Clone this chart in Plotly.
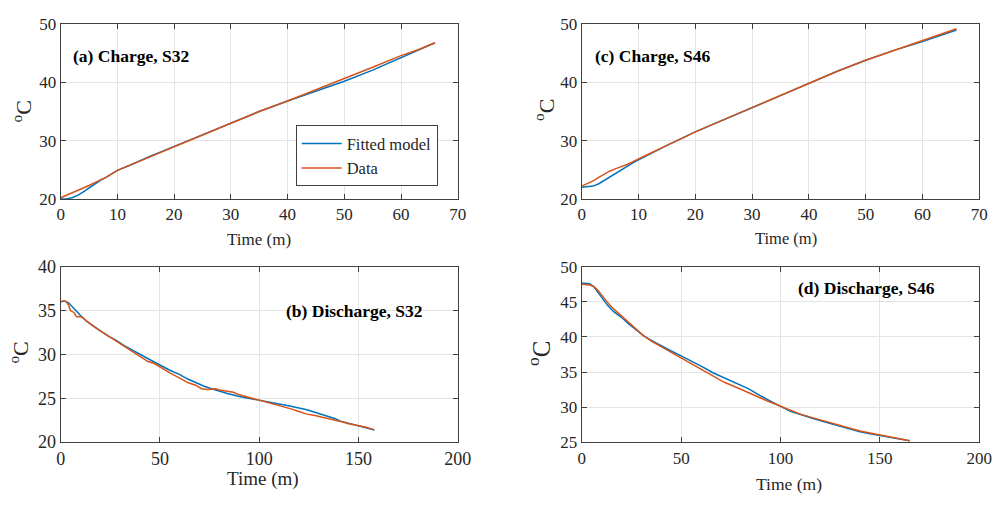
import plotly.graph_objects as go

# ---------------- data ----------------
# (a) Charge, S32
t_a_data = [0, 1, 2, 3, 4, 5, 6, 7, 8, 10, 12, 14, 16, 18, 20, 25, 30, 35, 40, 45, 50, 55, 60, 63, 66]
y_a_data = [20.2, 20.6, 21.0, 21.4, 21.8, 22.3, 22.8, 23.2, 23.7, 24.9, 25.7, 26.5, 27.3, 28.2, 29.0,
            31.0, 32.9, 35.0, 36.8, 38.7, 40.6, 42.6, 44.6, 45.6, 46.8]
t_a_fit = [0, 1, 2, 3, 4, 5, 6, 7, 8, 10, 12, 14, 16, 18, 20, 25, 30, 35, 40, 45, 50, 55, 60, 63, 66]
y_a_fit = [20.0, 20.0, 20.2, 20.6, 21.2, 21.9, 22.6, 23.2, 23.7, 24.9, 25.7, 26.6, 27.4, 28.2, 29.0,
           31.0, 32.9, 35.0, 36.8, 38.5, 40.2, 42.1, 44.2, 45.6, 46.8]

# (c) Charge, S46
t_c_data = [0, 1, 2, 3, 4, 5, 6, 7, 8, 9, 10, 12, 15, 20, 25, 30, 35, 40, 45, 50, 55, 60, 63, 66]
y_c_data = [22.2, 22.6, 23.1, 23.7, 24.3, 24.8, 25.2, 25.5, 25.9, 26.4, 26.9, 27.8, 29.2, 31.5,
            33.6, 35.7, 37.8, 39.9, 41.9, 43.8, 45.5, 47.1, 48.1, 49.2]
t_c_fit = [0, 1, 2, 3, 4, 5, 6, 7, 8, 9, 10, 12, 15, 20, 25, 30, 35, 40, 45, 50, 55, 60, 63, 66]
y_c_fit = [22.0, 22.05, 22.2, 22.6, 23.2, 23.9, 24.5, 25.1, 25.7, 26.2, 26.7, 27.7, 29.2, 31.5,
           33.6, 35.7, 37.8, 39.9, 41.9, 43.8, 45.5, 47.0, 48.0, 49.0]

# (b) Discharge, S32
t_b_data = [0, 1, 2, 3, 4, 5, 6, 7, 8, 10, 11, 13, 16, 20, 24, 28, 32, 36, 40, 44, 47, 50, 55, 60,
            64, 68, 71, 74, 76, 78, 80, 84, 87, 90, 95, 100, 105, 110, 116, 120, 124, 127, 130, 133,
            137, 141, 145, 150, 154, 158]
y_b_data = [36.0, 36.1, 36.1, 36.0, 35.6, 35.0, 34.9, 34.7, 34.3, 34.3, 34.2, 33.8, 33.3, 32.7,
            32.1, 31.5, 30.9, 30.4, 29.8, 29.2, 29.0, 28.55, 27.9, 27.3, 26.8, 26.5, 26.1, 26.0,
            26.05, 26.1, 25.95, 25.8, 25.7, 25.4, 25.1, 24.8, 24.5, 24.2, 23.8, 23.5, 23.2, 23.1,
            22.95, 22.8, 22.6, 22.35, 22.1, 21.9, 21.7, 21.4]
t_b_fit = [0, 2, 4, 6, 8, 10, 13, 16, 20, 24, 28, 32, 36, 40, 45, 50, 55, 60, 64, 68, 72, 76, 80,
           84, 90, 95, 100, 108, 116, 124, 132, 138, 141, 145, 150, 154, 158]
y_b_fit = [36.0, 36.1, 35.9, 35.4, 34.9, 34.45, 33.8, 33.3, 32.7, 32.1, 31.6, 31.0, 30.5, 29.95,
           29.4, 28.8, 28.2, 27.7, 27.2, 26.8, 26.4, 26.1, 25.8, 25.55, 25.2, 25.0, 24.8, 24.4,
           24.1, 23.7, 23.15, 22.7, 22.4, 22.15, 21.9, 21.65, 21.4]

# (d) Discharge, S46
t_d_data = [0, 2, 4, 6, 8, 10, 13, 16, 20, 23, 27, 31, 35, 40, 45, 50, 55, 61, 66, 72, 78, 84, 90,
            95, 100, 105, 110, 116, 122, 128, 133, 140, 145, 150, 155, 160, 165]
y_d_data = [47.5, 47.45, 47.4, 47.2, 46.7, 46.0, 44.9, 44.0, 43.0, 42.2, 41.2, 40.2, 39.4, 38.6,
            37.8, 37.0, 36.2, 35.2, 34.4, 33.5, 32.8, 32.0, 31.3, 30.7, 30.1, 29.5, 29.0, 28.5,
            28.0, 27.5, 27.1, 26.6, 26.3, 26.0, 25.8, 25.5, 25.2]
t_d_fit = [0, 2, 4, 6, 8, 10, 13, 16, 20, 23, 27, 31, 35, 40, 45, 50, 55, 61, 66, 72, 78, 84, 90,
           95, 100, 105, 110, 116, 122, 128, 133, 140, 145, 150, 155, 160, 165]
y_d_fit = [47.7, 47.7, 47.6, 47.2, 46.4, 45.7, 44.5, 43.6, 42.8, 42.0, 41.1, 40.2, 39.5, 38.7,
           38.0, 37.3, 36.6, 35.7, 34.9, 34.1, 33.4, 32.6, 31.6, 30.8, 30.1, 29.4, 28.9, 28.4,
           27.9, 27.4, 27.0, 26.5, 26.2, 25.95, 25.7, 25.45, 25.2]

panel_labels = ["(a) Charge, S32", "(c) Charge, S46", "(b) Discharge, S32", "(d) Discharge, S46"]
series_names = ["Fitted model", "Data"]

# ---------------- styling ----------------
W, H = 1006, 505
BLUE = "#0072BD"
ORANGE = "#D95319"
FONT = "Liberation Serif"
TXT = "#262626"

def px_x(p):
    return p / W

def px_y(p):
    return 1 - p / H

fig = go.Figure()

panels = [
    ("", t_a_fit, y_a_fit, t_a_data, y_a_data, True),
    ("2", t_c_fit, y_c_fit, t_c_data, y_c_data, False),
    ("3", t_b_fit, y_b_fit, t_b_data, y_b_data, False),
    ("4", t_d_fit, y_d_fit, t_d_data, y_d_data, False),
]
for suf, tf, yf, td, yd, sl in panels:
    fig.add_trace(go.Scatter(x=tf, y=yf, mode="lines", name=series_names[0],
                             line=dict(color=BLUE, width=1.5), showlegend=sl,
                             xaxis="x" + suf, yaxis="y" + suf))
    fig.add_trace(go.Scatter(x=td, y=yd, mode="lines", name=series_names[1],
                             line=dict(color=ORANGE, width=1.5), showlegend=sl,
                             xaxis="x" + suf, yaxis="y" + suf))

left_dom = [px_x(57.7), px_x(462)]
right_dom = [px_x(588.3), px_x(993)]
top_dom = [px_y(196.7), px_y(14.7)]
bot_dom = [px_y(450), px_y(267.4)]

def xax(domain, anchor, rng, dtick, fs):
    return dict(domain=domain, anchor=anchor, range=rng, dtick=dtick, tick0=0,
                showgrid=True, gridcolor="#e4e4e4", gridwidth=1, zeroline=False,
                showline=True, linecolor="#404040", linewidth=1, mirror="ticks",
                ticks="inside", ticklen=5, tickcolor="#404040",
                tickfont=dict(family=FONT, size=fs, color=TXT))

def yax(domain, anchor, rng, dtick, fs):
    d = xax(domain, anchor, rng, dtick, fs)
    d["tick0"] = rng[0]
    return d

fig.update_layout(
    width=W, height=H,
    margin=dict(l=0, r=0, t=0, b=0),
    paper_bgcolor="white", plot_bgcolor="white",
    font=dict(family=FONT, color=TXT),
    xaxis=xax(left_dom, "y", [0, 70], 10, 17),
    yaxis=yax(top_dom, "x", [20, 50], 10, 17),
    xaxis2=xax(right_dom, "y2", [0, 70], 10, 17),
    yaxis2=yax(top_dom, "x2", [20, 50], 10, 17),
    xaxis3=xax(left_dom, "y3", [0, 200], 50, 18),
    yaxis3=yax(bot_dom, "x3", [20, 40], 5, 18),
    xaxis4=xax(right_dom, "y4", [0, 200], 50, 17),
    yaxis4=yax(bot_dom, "x4", [25, 50], 5, 17),
    legend=dict(x=px_x(297), y=px_y(120), xanchor="left", yanchor="top",
                bgcolor="white", bordercolor="#404040", borderwidth=1,
                font=dict(family=FONT, size=16.5, color=TXT),
                tracegroupgap=0, itemwidth=40),
    showlegend=True,
)

annots = []
# panel labels
for txt, (x, y) in zip(panel_labels, [(68, 48), (600, 48), (285, 313), (806, 289)]):
    annots.append(dict(text="<b>" + txt + "</b>", x=px_x(x), y=px_y(y), xref="paper", yref="paper",
                       xanchor="left", yanchor="middle", showarrow=False,
                       font=dict(family=FONT, size=17.5, color="black")))
# x titles
for (x, y, fs) in [(260, 239, 17), (796, 238, 16.5), (264, 488, 19), (799, 494, 17.5)]:
    annots.append(dict(text="Time (m)", x=px_x(x), y=px_y(y), xref="paper", yref="paper",
                       xanchor="center", yanchor="middle", showarrow=False,
                       font=dict(family=FONT, size=fs, color=TXT)))
# y titles
for (x, y, fs) in [(18, 106, 22), (550, 104, 22), (15, 357, 22), (545, 358, 25)]:
    annots.append(dict(text="<sup>o</sup>C", x=px_x(x), y=px_y(y), xref="paper", yref="paper",
                       xanchor="center", yanchor="middle", showarrow=False, textangle=-90,
                       font=dict(family=FONT, size=fs, color=TXT)))
fig.update_layout(annotations=annots)

fig.write_html("out.html")
